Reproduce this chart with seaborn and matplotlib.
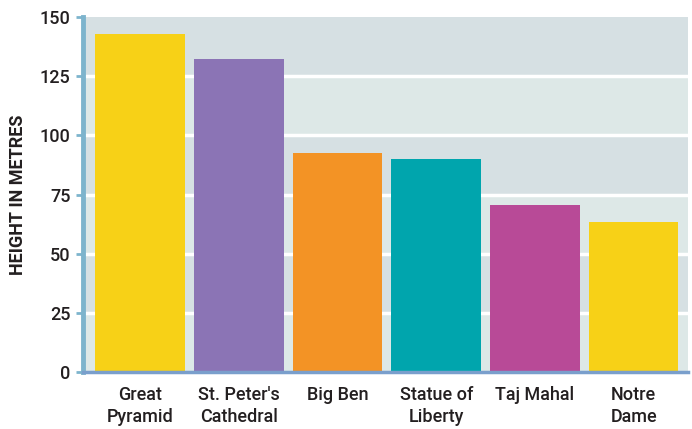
import matplotlib
matplotlib.use("Agg")
import matplotlib.pyplot as plt
import seaborn as sns
import pandas as pd

# Dữ liệu
buildings = ["Great\nPyramid", "St. Peter's\nCathedral", "Big Ben",
             "Statue of\nLiberty", "Taj Mahal", "Notre\nDame"]
heights = [143, 132.5, 92.5, 90, 70.5, 63.5]
colors = ["#f7d117", "#8b74b5", "#f39325", "#00a5ad", "#b84a97", "#f7d117"]
yticks = [0, 25, 50, 75, 100, 125, 150]

df = pd.DataFrame({"building": buildings, "height": heights})

sns.set_theme(style="white")
plt.rcParams["font.family"] = ["Roboto", "DejaVu Sans"]

fig = plt.figure(figsize=(6.92, 4.29), dpi=100)
ax = fig.add_axes([0.12, 0.133, 0.874, 0.827])

# nền dạng dải xen kẽ
ax.set_facecolor("#d6e0e3")
for i in range(len(yticks) - 1):
    if i % 2 == 0:
        ax.axhspan(yticks[i], yticks[i + 1], color="#dde8e7", zorder=0)
for t in yticks[1:-1]:
    ax.axhline(t, color="white", lw=2.5, zorder=0.5)

sns.barplot(data=df, x="building", y="height", hue="building",
            palette=colors, legend=False, width=0.91, saturation=1,
            linewidth=0, ax=ax, zorder=2)

ax.set_xlim(-0.58, 5.55)
ax.set_ylim(0, 150)
ax.set_yticks(yticks)
ax.set_xlabel("")
ax.set_ylabel("HEIGHT IN METRES", fontsize=13, fontweight="bold",
              color="#231f20", labelpad=9)

for s in ["top", "right"]:
    ax.spines[s].set_visible(False)
ax.spines["left"].set_color("#7db4cd")
ax.spines["left"].set_linewidth(3.5)
ax.spines["bottom"].set_color("#7a9fcc")
ax.spines["bottom"].set_linewidth(2.5)

ax.tick_params(axis="y", left=True, length=5, width=2, color="#7db4cd",
               labelsize=13, labelcolor="#231f20", pad=4)
ax.tick_params(axis="x", bottom=False, labelsize=13, labelcolor="#231f20",
               pad=4)
for lbl in ax.get_xticklabels():
    lbl.set_linespacing(1.3)
for lbl in ax.get_xticklabels() + ax.get_yticklabels():
    lbl.set_fontweight("medium")

fig.savefig("out.png", dpi=100, facecolor="white")
